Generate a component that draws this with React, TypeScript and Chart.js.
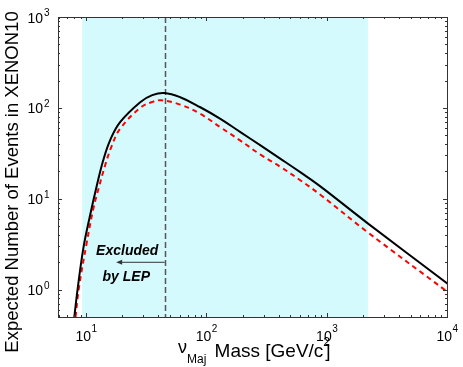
import React, { useEffect, useRef } from "react";
import { Chart, registerables } from "chart.js";
Chart.register(...registerables);

// Majorana neutrino mass [GeV/c^2] and expected events in XENON10
const massSolid = [7.99, 8.53, 9.5, 10.8, 12.3, 13.9, 15.85, 19.2, 28.2, 35.5, 44.7, 60.7, 89.1, 130.8, 191.9, 281.8, 413.7, 607, 891, 2181, 10150];
const eventsSolid = [0.5, 1.03, 2.85, 6.55, 14.0, 26.5, 44, 69.7, 115.5, 138, 146, 131, 101.6, 75.7, 54.1, 38.6, 27.5, 19.5, 13.6, 5.4, 1.16];
const massDashed = [8.18, 8.74, 10.1, 11.5, 12.7, 14.4, 16.4, 19.2, 28.2, 35.5, 42, 60.7, 89.1, 130.8, 191.9, 281.8, 413.7, 607, 891, 2181, 10150];
const eventsDashed = [0.5, 1.06, 3.2, 7.76, 12.9, 23.2, 38.5, 58.8, 100, 116, 121, 108.7, 85.9, 61.2, 43.6, 30.6, 22.4, 15.9, 11.0, 4.3, 0.94];

const xDecades = [1, 2, 3, 4];
const yDecades = [0, 1, 2, 3];
const xRange = [5.85, 10000];
const yRange = [0.5, 1000];
const excludedBand = [9.3, 2200];
const lepLimit = 45;

const FONT = '"Liberation Sans", Arial, Helvetica, sans-serif';

const pts = (xs: number[], ys: number[]) => xs.map((x, i) => ({ x, y: ys[i] }));

const decorPlugin = {
  id: "decor",
  beforeDatasetsDraw(chart: any) {
    const { ctx, chartArea: a, scales } = chart;
    const xs = scales.x;
    ctx.save();
    const x0 = xs.getPixelForValue(excludedBand[0]);
    const x1 = xs.getPixelForValue(excludedBand[1]);
    ctx.fillStyle = "rgb(212,250,253)";
    ctx.fillRect(x0, a.top, x1 - x0, a.bottom - a.top);
    const lx = Math.round(xs.getPixelForValue(lepLimit)) + 0.5;
    ctx.strokeStyle = "#555";
    ctx.lineWidth = 1.5;
    ctx.setLineDash([6, 3]);
    ctx.beginPath();
    ctx.moveTo(lx, a.top);
    ctx.lineTo(lx, a.bottom);
    ctx.stroke();
    ctx.restore();
  },
  afterDraw(chart: any) {
    const { ctx, chartArea: a, scales } = chart;
    const xs = scales.x;
    const ys = scales.y;
    ctx.save();
    // frame
    ctx.strokeStyle = "#333";
    ctx.lineWidth = 1;
    ctx.setLineDash([]);
    ctx.strokeRect(Math.round(a.left) + 0.5, Math.round(a.top) + 0.5, Math.round(a.right - a.left), Math.round(a.bottom - a.top));
    // ticks
    ctx.beginPath();
    for (let d = 0; d <= 4; d++) {
      for (let m = 1; m <= 9; m++) {
        const v = m * Math.pow(10, d);
        if (v < xRange[0] || v > xRange[1]) continue;
        const px = Math.round(xs.getPixelForValue(v)) + 0.5;
        const len = m === 1 ? 4 : 2;
        ctx.moveTo(px, a.bottom);
        ctx.lineTo(px, a.bottom - len);
        ctx.moveTo(px, a.top);
        ctx.lineTo(px, a.top + len);
      }
    }
    for (let d = -1; d <= 3; d++) {
      for (let m = 1; m <= 9; m++) {
        const v = m * Math.pow(10, d);
        if (v < yRange[0] || v > yRange[1]) continue;
        const py = Math.round(ys.getPixelForValue(v)) + 0.5;
        const len = m === 1 ? 4 : 2;
        ctx.moveTo(a.left, py);
        ctx.lineTo(a.left + len, py);
        ctx.moveTo(a.right, py);
        ctx.lineTo(a.right - len, py);
      }
    }
    ctx.stroke();

    // tick labels
    ctx.fillStyle = "#000";
    const big = `14px ${FONT}`;
    const small = `10px ${FONT}`;
    ctx.textBaseline = "alphabetic";
    for (const e of xDecades) {
      const px = xs.getPixelForValue(Math.pow(10, e));
      ctx.font = big;
      const w1 = ctx.measureText("10").width;
      ctx.font = small;
      const w2 = ctx.measureText(String(e)).width;
      const start = px - (w1 + w2) / 2;
      ctx.font = big;
      ctx.textAlign = "left";
      ctx.fillText("10", start, 341);
      ctx.font = small;
      ctx.fillText(String(e), start + w1 + 0.5, 332);
    }
    for (const e of yDecades) {
      const py = ys.getPixelForValue(Math.pow(10, e));
      ctx.font = big;
      ctx.textAlign = "right";
      ctx.fillText("10", 43, py + 5.5);
      ctx.font = small;
      ctx.textAlign = "left";
      ctx.fillText(String(e), 44, py - 1);
    }

    // y title
    ctx.save();
    ctx.translate(18, 182);
    ctx.rotate(-Math.PI / 2);
    ctx.font = `18.5px ${FONT}`;
    ctx.textAlign = "center";
    ctx.fillText("Expected Number of Events in XENON10", 0, 0);
    ctx.restore();

    // x title
    ctx.textAlign = "left";
    let cx = 178;
    ctx.font = `18px ${FONT}`;
    ctx.fillText("\u03BD", cx, 353);
    cx += ctx.measureText("\u03BD").width;
    ctx.font = `12px ${FONT}`;
    ctx.fillText("Maj", cx, 363);
    cx += ctx.measureText("Maj").width + 3;
    ctx.font = `19px ${FONT}`;
    const main = " Mass [GeV/c";
    ctx.fillText(main, cx, 357);
    cx += ctx.measureText(main).width;
    ctx.font = `12px ${FONT}`;
    ctx.fillText("2", cx, 346);
    ctx.font = `19px ${FONT}`;
    ctx.fillText("]", cx + 2, 357);

    // annotation
    const arrowY = ys.getPixelForValue(2.0);
    const ax0 = xs.getPixelForValue(lepLimit);
    const ax1 = xs.getPixelForValue(17.8);
    ctx.strokeStyle = "#333";
    ctx.fillStyle = "#333";
    ctx.lineWidth = 1;
    ctx.beginPath();
    ctx.moveTo(ax0, arrowY);
    ctx.lineTo(ax1 + 4, arrowY);
    ctx.stroke();
    ctx.beginPath();
    ctx.moveTo(ax1, arrowY);
    ctx.lineTo(ax1 + 6, arrowY - 2.5);
    ctx.lineTo(ax1 + 6, arrowY + 2.5);
    ctx.closePath();
    ctx.fill();
    ctx.fillStyle = "#000";
    ctx.font = `italic bold 14px ${FONT}`;
    ctx.textAlign = "center";
    ctx.textBaseline = "middle";
    ctx.fillText("Excluded", xs.getPixelForValue(22), ys.getPixelForValue(2.63));
    ctx.fillText("by LEP", xs.getPixelForValue(21.6), ys.getPixelForValue(1.39));
    ctx.restore();
  },
};

export default function App() {
  const ref = useRef<HTMLCanvasElement>(null);
  useEffect(() => {
    const chart = new Chart(ref.current!, {
      type: "line",
      data: {
        datasets: [
          {
            data: pts(massSolid, eventsSolid),
            borderColor: "#000",
            borderWidth: 2,
            pointRadius: 0,
            tension: 0.4,
          },
          {
            data: pts(massDashed, eventsDashed),
            borderColor: "#ff0000",
            borderWidth: 2,
            borderDash: [5, 4],
            pointRadius: 0,
            tension: 0.4,
          },
        ],
      },
      options: {
        animation: false,
        responsive: false,
        layout: { padding: { left: 58, right: 16, top: 17, bottom: 50 } },
        plugins: { legend: { display: false }, tooltip: { enabled: false } },
        scales: {
          x: { type: "logarithmic", min: xRange[0], max: xRange[1], display: false },
          y: { type: "logarithmic", min: yRange[0], max: yRange[1], display: false },
        },
      },
      plugins: [decorPlugin],
    } as any);
    return () => chart.destroy();
  }, []);
  return (
    <div style={{ position: "fixed", left: 0, top: 0, width: 463, height: 367, background: "#fff" }}>
      <canvas ref={ref} width={463} height={367} style={{ width: 463, height: 367 }} />
    </div>
  );
}
